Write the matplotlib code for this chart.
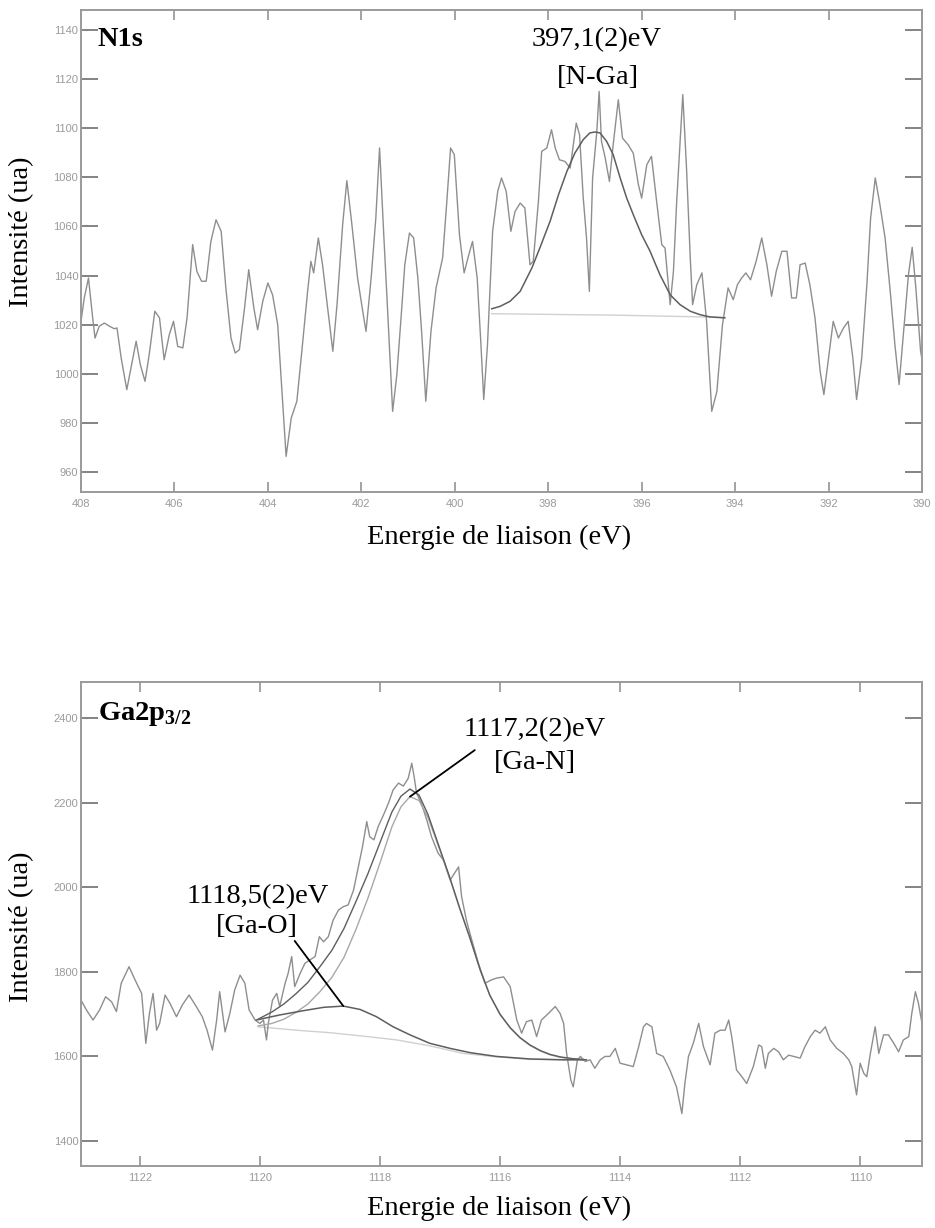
import matplotlib
matplotlib.use("Agg")
import matplotlib.pyplot as plt

# ---------------- data ----------------
# N1s spectrum: (binding energy eV, intensity)
n1s_spectrum = [
    (408.00, 1021.4), (407.93, 1030.9), (407.84, 1039.0), (407.75, 1022.8), (407.70, 1014.6),
    (407.61, 1019.4), (407.50, 1020.7), (407.39, 1019.4), (407.29, 1018.4), (407.23, 1018.7),
    (407.14, 1006.5), (407.02, 993.6), (406.93, 1002.4), (406.82, 1013.3), (406.73, 1003.8),
    (406.63, 997.0), (406.54, 1007.9), (406.42, 1025.5), (406.32, 1022.8), (406.22, 1005.8),
    (406.11, 1016.0), (406.02, 1021.4), (405.93, 1011.2), (405.82, 1010.6), (405.73, 1022.8),
    (405.61, 1052.6), (405.52, 1041.7), (405.42, 1037.7), (405.32, 1037.7), (405.22, 1053.9),
    (405.11, 1062.7), (405.00, 1058.0), (404.90, 1035.0), (404.79, 1014.6), (404.70, 1008.5),
    (404.61, 1009.9), (404.50, 1026.8), (404.41, 1042.4), (404.30, 1026.8), (404.22, 1018.0),
    (404.11, 1029.5), (404.00, 1037.0), (403.90, 1032.2), (403.79, 1020.1), (403.70, 993.0),
    (403.61, 966.5), (403.50, 982.1), (403.38, 988.9), (403.26, 1011.9), (403.15, 1033.6),
    (403.08, 1045.8), (403.02, 1041.1), (402.92, 1055.3), (402.83, 1044.4), (402.73, 1028.2),
    (402.61, 1009.2), (402.52, 1028.2), (402.40, 1060.7), (402.31, 1078.6), (402.21, 1062.1),
    (402.08, 1039.0), (401.97, 1025.5), (401.90, 1017.3), (401.79, 1039.0), (401.69, 1063.4),
    (401.61, 1091.9), (401.52, 1056.6), (401.44, 1026.8), (401.33, 984.8), (401.24, 999.7),
    (401.15, 1022.8), (401.07, 1044.4), (400.97, 1057.3), (400.88, 1055.3), (400.79, 1039.0),
    (400.71, 1017.3), (400.62, 988.9), (400.51, 1017.3), (400.40, 1035.0), (400.26, 1047.2),
    (400.17, 1070.2), (400.09, 1091.9), (400.01, 1089.2), (399.90, 1056.6), (399.80, 1041.1),
    (399.71, 1047.8), (399.62, 1053.9), (399.52, 1039.0), (399.44, 1011.9), (399.38, 989.6),
    (399.30, 1011.9), (399.19, 1058.0), (399.08, 1074.3), (399.00, 1079.7), (398.90, 1074.3),
    (398.80, 1058.0), (398.71, 1066.1), (398.60, 1069.5), (398.50, 1067.5), (398.39, 1044.4),
    (398.32, 1045.8), (398.21, 1070.2), (398.14, 1090.5), (398.03, 1091.9), (397.93, 1099.3),
    (397.85, 1091.9), (397.76, 1087.1), (397.64, 1086.4), (397.53, 1083.7), (397.40, 1102.0),
    (397.33, 1097.3), (397.25, 1071.5), (397.18, 1055.3), (397.12, 1033.6), (397.05, 1079.7),
    (396.96, 1098.6), (396.91, 1114.9), (396.86, 1094.6), (396.78, 1087.8), (396.69, 1078.3),
    (396.61, 1093.2), (396.50, 1111.5), (396.41, 1095.9), (396.29, 1093.2), (396.18, 1089.8),
    (396.07, 1077.0), (396.00, 1071.5), (395.89, 1085.1), (395.79, 1088.5), (395.68, 1070.2),
    (395.57, 1052.6), (395.50, 1051.2), (395.39, 1028.2), (395.32, 1041.7), (395.25, 1070.2),
    (395.12, 1113.6), (395.04, 1083.7), (394.96, 1047.2), (394.91, 1028.2), (394.82, 1036.3),
    (394.71, 1041.1), (394.61, 1021.4), (394.50, 984.8), (394.39, 992.9), (394.27, 1020.1),
    (394.15, 1035.0), (394.04, 1030.2), (393.95, 1036.3), (393.86, 1039.0), (393.77, 1041.1),
    (393.67, 1038.3), (393.55, 1045.8), (393.43, 1055.3), (393.32, 1044.4), (393.22, 1031.6),
    (393.12, 1041.7), (393.00, 1049.9), (392.89, 1049.9), (392.79, 1030.9), (392.69, 1030.9),
    (392.61, 1044.4), (392.50, 1045.1), (392.40, 1036.3), (392.29, 1022.8), (392.18, 1001.1),
    (392.10, 991.6), (392.00, 1006.5), (391.90, 1021.4), (391.79, 1014.6), (391.68, 1018.7),
    (391.58, 1021.4), (391.48, 1006.5), (391.40, 989.6), (391.29, 1006.5), (391.18, 1036.3),
    (391.10, 1063.4), (391.00, 1079.7), (390.90, 1068.8), (390.79, 1055.3), (390.68, 1033.6),
    (390.58, 1011.9), (390.49, 995.7), (390.38, 1020.1), (390.29, 1040.4), (390.21, 1051.5),
    (390.13, 1034.6), (390.03, 1009.2), (390.00, 1006.0),
]
n1s_fit = [
    (399.21, 1026.5), (399.03, 1027.5), (398.82, 1029.5), (398.60, 1033.6), (398.35, 1043.1),
    (398.18, 1051.2), (397.96, 1062.1), (397.78, 1072.9), (397.60, 1082.4), (397.43, 1089.8),
    (397.25, 1095.3), (397.11, 1098.0), (397.00, 1098.4), (396.89, 1098.0), (396.75, 1094.6),
    (396.61, 1089.2), (396.46, 1079.7), (396.32, 1071.5), (396.18, 1064.8), (396.00, 1056.6),
    (395.82, 1049.9), (395.61, 1040.4), (395.39, 1032.2), (395.18, 1028.2), (394.96, 1025.5),
    (394.75, 1024.1), (394.54, 1023.2), (394.22, 1022.8),
]
n1s_background = [(399.21, 1024.5), (396.50, 1023.9), (394.22, 1023.0)]

# Ga2p3/2 spectrum
ga_spectrum = [
    (1122.98, 1733), (1122.89, 1710), (1122.78, 1686), (1122.67, 1710), (1122.57, 1741),
    (1122.47, 1729), (1122.39, 1706), (1122.31, 1773), (1122.18, 1812), (1122.08, 1781),
    (1121.97, 1749), (1121.90, 1631), (1121.84, 1702), (1121.78, 1749), (1121.72, 1662),
    (1121.67, 1678), (1121.58, 1745), (1121.50, 1726), (1121.39, 1694), (1121.29, 1722),
    (1121.18, 1745), (1121.06, 1718), (1120.96, 1694), (1120.88, 1662), (1120.79, 1615),
    (1120.72, 1686), (1120.67, 1753), (1120.58, 1658), (1120.50, 1702), (1120.42, 1757),
    (1120.33, 1792), (1120.25, 1773), (1120.18, 1710), (1120.08, 1686), (1120.00, 1678),
    (1119.94, 1686), (1119.89, 1639), (1119.86, 1678), (1119.79, 1733), (1119.72, 1749),
    (1119.67, 1718), (1119.58, 1773), (1119.53, 1796), (1119.47, 1836), (1119.42, 1765),
    (1119.33, 1796), (1119.25, 1820), (1119.17, 1828), (1119.08, 1836), (1119.01, 1883),
    (1118.94, 1871), (1118.86, 1883), (1118.78, 1922), (1118.69, 1946), (1118.61, 1954),
    (1118.53, 1958), (1118.44, 1993), (1118.36, 2048), (1118.29, 2096), (1118.22, 2155),
    (1118.17, 2119), (1118.10, 2112), (1118.03, 2143), (1117.94, 2171), (1117.86, 2198),
    (1117.78, 2230), (1117.69, 2246), (1117.61, 2239), (1117.53, 2257), (1117.47, 2293),
    (1117.43, 2261), (1117.39, 2222), (1117.31, 2198), (1117.22, 2159), (1117.14, 2119),
    (1117.03, 2080), (1116.94, 2064), (1116.83, 2017), (1116.69, 2048), (1116.64, 1978),
    (1116.56, 1922), (1116.47, 1875), (1116.36, 1820), (1116.25, 1773), (1116.14, 1781),
    (1116.06, 1785), (1115.94, 1788), (1115.83, 1765), (1115.72, 1686), (1115.64, 1655),
    (1115.56, 1682), (1115.47, 1686), (1115.39, 1647), (1115.31, 1686), (1115.19, 1702),
    (1115.08, 1718), (1115.00, 1702), (1114.94, 1678), (1114.89, 1607), (1114.82, 1544),
    (1114.78, 1528), (1114.71, 1592), (1114.66, 1600), (1114.58, 1588), (1114.50, 1592),
    (1114.42, 1572), (1114.33, 1592), (1114.25, 1600), (1114.17, 1600), (1114.08, 1619),
    (1114.00, 1584), (1113.89, 1580), (1113.78, 1576), (1113.69, 1623), (1113.61, 1670),
    (1113.56, 1678), (1113.47, 1670), (1113.39, 1607), (1113.28, 1600), (1113.17, 1568),
    (1113.06, 1528), (1112.97, 1465), (1112.92, 1536), (1112.86, 1600), (1112.78, 1631),
    (1112.69, 1678), (1112.61, 1623), (1112.50, 1580), (1112.42, 1655), (1112.33, 1662),
    (1112.25, 1662), (1112.19, 1686), (1112.14, 1647), (1112.06, 1568), (1111.97, 1552),
    (1111.89, 1536), (1111.78, 1576), (1111.69, 1627), (1111.64, 1623), (1111.58, 1572),
    (1111.53, 1607), (1111.44, 1619), (1111.36, 1611), (1111.28, 1592), (1111.19, 1603),
    (1111.11, 1600), (1111.00, 1596), (1110.92, 1623), (1110.83, 1647), (1110.75, 1662),
    (1110.67, 1655), (1110.58, 1670), (1110.50, 1639), (1110.39, 1619), (1110.28, 1607),
    (1110.19, 1592), (1110.14, 1576), (1110.06, 1509), (1110.00, 1584), (1109.94, 1560),
    (1109.89, 1552), (1109.83, 1607), (1109.75, 1670), (1109.69, 1607), (1109.61, 1651),
    (1109.53, 1651), (1109.44, 1631), (1109.36, 1611), (1109.28, 1639), (1109.19, 1647),
    (1109.14, 1702), (1109.08, 1753), (1109.03, 1726), (1108.97, 1678),
]
ga_envelope = [
    (1120.03, 1688), (1119.80, 1705), (1119.60, 1724), (1119.40, 1748), (1119.20, 1775),
    (1119.00, 1812), (1118.80, 1851), (1118.60, 1902), (1118.40, 1966), (1118.20, 2032),
    (1118.00, 2105), (1117.80, 2178), (1117.65, 2215), (1117.50, 2232), (1117.35, 2218),
    (1117.20, 2172), (1117.00, 2090), (1116.83, 2020), (1116.67, 1950), (1116.50, 1880),
    (1116.33, 1805), (1116.17, 1745), (1116.00, 1700), (1115.83, 1668), (1115.67, 1645),
    (1115.50, 1627), (1115.33, 1614), (1115.17, 1605), (1115.00, 1599), (1114.80, 1595),
    (1114.56, 1592),
]
ga_n_component = [
    (1120.03, 1672), (1119.80, 1678), (1119.60, 1688), (1119.40, 1704), (1119.20, 1724),
    (1119.00, 1753), (1118.80, 1787), (1118.60, 1834), (1118.40, 1900), (1118.20, 1974),
    (1118.00, 2057), (1117.80, 2143), (1117.65, 2190), (1117.50, 2214), (1117.35, 2205),
    (1117.20, 2165), (1117.00, 2087), (1116.83, 2018), (1116.67, 1949), (1116.50, 1879),
    (1116.33, 1804), (1116.17, 1744), (1116.00, 1699), (1115.83, 1667), (1115.67, 1644),
    (1115.50, 1626), (1115.33, 1613), (1115.17, 1604), (1115.00, 1598), (1114.80, 1594),
    (1114.56, 1592),
]
ga_o_component = [
    (1120.06, 1686), (1119.67, 1698), (1119.28, 1708), (1118.94, 1716), (1118.61, 1719),
    (1118.33, 1711), (1118.06, 1694), (1117.78, 1670), (1117.50, 1651), (1117.17, 1631),
    (1116.83, 1619), (1116.50, 1609), (1116.06, 1600), (1115.50, 1594), (1114.94, 1592),
    (1114.62, 1592),
]
ga_background = [
    (1120.03, 1670), (1119.39, 1662), (1118.83, 1656), (1118.28, 1648), (1117.72, 1639),
    (1117.17, 1625), (1116.61, 1607), (1116.06, 1599), (1115.50, 1593), (1114.94, 1592),
    (1114.56, 1592),
]

n1s_xticks = [408, 406, 404, 402, 400, 398, 396, 394, 392, 390]
n1s_yticks = [960, 980, 1000, 1020, 1040, 1060, 1080, 1100, 1120, 1140]
ga_xticks = [1122, 1120, 1118, 1116, 1114, 1112, 1110]
ga_yticks = [1400, 1600, 1800, 2000, 2200, 2400]

xlabel_text = "Energie de liaison (eV)"
ylabel_text = "Intensité (ua)"

# ---------------- figure ----------------
plt.rcParams['mathtext.fontset'] = 'custom'
plt.rcParams['mathtext.rm'] = 'Liberation Serif'
plt.rcParams['mathtext.bf'] = 'Liberation Serif:bold'

W, H = 935, 1228
fig = plt.figure(figsize=(W / 100, H / 100), dpi=100)
SERIF = 'Liberation Serif'
BIG = 20.5

ax1 = fig.add_axes([81 / W, 1 - 492 / H, 841 / W, 482 / H])
ax2 = fig.add_axes([81 / W, 1 - 1166 / H, 841 / W, 484 / H])

DATA_C = '#8e8e8e'
FIT_C = '#5e5e5e'
COMP_C = '#a8a8a8'
BG_C = '#d0d0d0'


def style(ax, xticks, yticks, xlim, ylim):
    ax.set_xlim(*xlim)
    ax.set_ylim(*ylim)
    ax.set_xticks(xticks)
    ax.set_yticks(yticks)
    ax.set_xticklabels([str(t) for t in xticks])
    ax.set_yticklabels([str(t) for t in yticks])
    for s in ax.spines.values():
        s.set_color('#9a9a9a')
        s.set_linewidth(1.4)
    ax.tick_params(axis='x', direction='in', length=7, width=1.1, color='#8a8a8a',
                   top=True, bottom=True, labelsize=8, labelcolor='#9a9a9a', pad=5)
    ax.tick_params(axis='y', direction='in', length=12.5, width=1.3, color='#7a7a7a',
                   left=True, right=True, labelsize=8, labelcolor='#9a9a9a', pad=2)
    for lab in ax.get_xticklabels() + ax.get_yticklabels():
        lab.set_family('Liberation Sans')


def xy(pairs):
    return [p[0] for p in pairs], [p[1] for p in pairs]


# top panel: N1s
style(ax1, n1s_xticks, n1s_yticks, (408, 390), (952, 1148))
ax1.plot(*xy(n1s_background), color=BG_C, lw=1.0)
ax1.plot(*xy(n1s_spectrum), color=DATA_C, lw=1.0)
ax1.plot(*xy(n1s_fit), color=FIT_C, lw=1.1)
ax1.text(407.64, 1135.9, 'N1s', family=SERIF, fontweight='bold', size=BIG,
         ha='left', va='center')
ax1.text(396.96, 1135.9, '397,1(2)eV', family=SERIF, size=BIG, ha='center', va='center')
ax1.text(396.93, 1120.5, '[N-Ga]', family=SERIF, size=BIG, ha='center', va='center')

# bottom panel: Ga2p3/2
style(ax2, ga_xticks, ga_yticks, (1122.98, 1108.97), (1341, 2485))
ax2.plot(*xy(ga_background), color=BG_C, lw=1.0)
ax2.plot(*xy(ga_spectrum), color=DATA_C, lw=1.0)
ax2.plot(*xy(ga_n_component), color=COMP_C, lw=1.0)
ax2.plot(*xy(ga_o_component), color=FIT_C, lw=1.1)
ax2.plot(*xy(ga_envelope), color=FIT_C, lw=1.0)
ax2.text(1122.7, 2395, r'$\mathbf{Ga2p}_{\mathbf{3/2}}$', size=BIG, ha='left', va='baseline')
ax2.text(1115.42, 2372, '1117,2(2)eV', family=SERIF, size=BIG, ha='center', va='center')
ax2.text(1115.42, 2294, '[Ga-N]', family=SERIF, size=BIG, ha='center', va='center')
ax2.text(1120.03, 1977, '1118,5(2)eV', family=SERIF, size=BIG, ha='center', va='center')
ax2.text(1120.05, 1906, '[Ga-O]', family=SERIF, size=BIG, ha='center', va='center')
ax2.annotate('', xy=(1117.5, 2214), xytext=(1116.42, 2324),
             arrowprops=dict(arrowstyle='-', color='black', lw=1.3, shrinkA=0, shrinkB=0))
ax2.annotate('', xy=(1118.61, 1719), xytext=(1119.42, 1873),
             arrowprops=dict(arrowstyle='-', color='black', lw=1.3, shrinkA=0, shrinkB=0))

# axis titles
fig.text(499 / W, 1 - 537 / H, xlabel_text, family=SERIF, size=BIG, ha='center', va='center')
fig.text(499 / W, 1 - 1208 / H, xlabel_text, family=SERIF, size=BIG, ha='center', va='center')
fig.text(22 / W, 1 - 232 / H, ylabel_text, family=SERIF, size=BIG, ha='center', va='center',
         rotation=90)
fig.text(22 / W, 1 - 927 / H, ylabel_text, family=SERIF, size=BIG, ha='center', va='center',
         rotation=90)

fig.savefig('out.png', dpi=100)
